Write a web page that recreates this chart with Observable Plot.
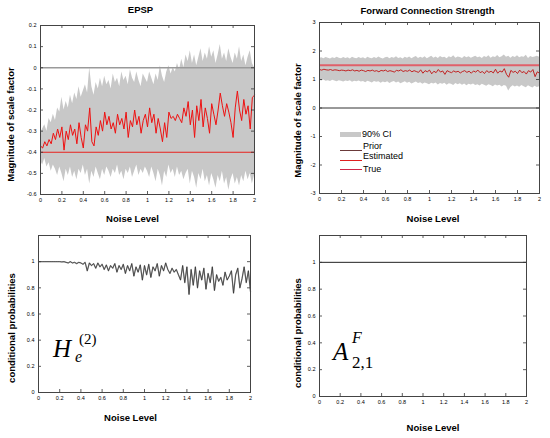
<!DOCTYPE html>
<html><head><meta charset="utf-8">
<script src="https://cdn.jsdelivr.net/npm/d3@7"></script>
<script src="https://cdn.jsdelivr.net/npm/@observablehq/plot@0.6"></script>
<style>
body{margin:0;background:#fff;}
#wrap{position:relative;width:550px;height:438px;overflow:hidden;background:#fff;}
#wrap svg{position:absolute;left:0;top:0;}
.lg{position:absolute;font-family:"Liberation Sans",Arial,sans-serif;font-size:9px;line-height:1;color:#000;white-space:nowrap;}
.sw{position:absolute;}
.m{position:absolute;font-family:"Liberation Serif","Times New Roman",serif;line-height:1;color:#000;white-space:nowrap;}
</style></head><body><div id="wrap"></div>
<script>
// ---------- data ----------
const noiseLevel = [0,0.02,0.04,0.06,0.08,0.1,0.12,0.14,0.16,0.18,
0.2,0.22,0.24,0.26,0.28,0.3,0.32,0.34,0.36,0.38,
0.4,0.42,0.44,0.46,0.48,0.5,0.52,0.54,0.56,0.58,
0.6,0.62,0.64,0.66,0.68,0.7,0.72,0.74,0.76,0.78,
0.8,0.82,0.84,0.86,0.88,0.9,0.92,0.94,0.96,0.98,
1,1.02,1.04,1.06,1.08,1.1,1.12,1.14,1.16,1.18,
1.2,1.22,1.24,1.26,1.28,1.3,1.32,1.34,1.36,1.38,
1.4,1.42,1.44,1.46,1.48,1.5,1.52,1.54,1.56,1.58,
1.6,1.62,1.64,1.66,1.68,1.7,1.72,1.74,1.76,1.78,
1.8,1.82,1.84,1.86,1.88,1.9,1.92,1.94,1.96,1.98,2];

// EPSP panel
const epspEstimated = [-0.37,-0.38,-0.35,-0.37,-0.34,-0.36,-0.31,-0.34,-0.29,-0.33,
-0.28,-0.39,-0.30,-0.34,-0.27,-0.32,-0.29,-0.36,-0.26,-0.33,
-0.38,-0.27,-0.30,-0.19,-0.35,-0.37,-0.28,-0.32,-0.25,-0.30,
-0.21,-0.27,-0.23,-0.29,-0.26,-0.31,-0.22,-0.27,-0.24,-0.29,
-0.21,-0.33,-0.25,-0.28,-0.20,-0.27,-0.23,-0.31,-0.25,-0.22,
-0.28,-0.19,-0.26,-0.22,-0.31,-0.24,-0.29,-0.35,-0.26,-0.33,
-0.21,-0.24,-0.23,-0.25,-0.22,-0.24,-0.26,-0.19,-0.23,-0.16,
-0.27,-0.20,-0.33,-0.18,-0.25,-0.15,-0.28,-0.19,-0.24,-0.31,
-0.17,-0.22,-0.27,-0.20,-0.12,-0.18,-0.23,-0.17,-0.21,-0.26,
-0.33,-0.19,-0.11,-0.20,-0.25,-0.15,-0.22,-0.18,-0.29,-0.14,-0.13];
const epspUpper = [-0.31,-0.29,-0.27,-0.30,-0.24,-0.26,-0.22,-0.25,-0.19,-0.21,
-0.14,-0.20,-0.16,-0.19,-0.13,-0.17,-0.12,-0.15,-0.09,-0.14,
-0.11,-0.08,-0.12,0.00,-0.09,-0.13,-0.07,-0.10,-0.05,-0.09,
-0.04,-0.08,-0.06,-0.10,-0.03,-0.07,-0.05,-0.09,-0.02,-0.06,
-0.04,-0.08,-0.01,-0.05,-0.07,-0.02,-0.06,-0.09,-0.03,-0.05,
-0.07,-0.02,-0.05,-0.08,-0.03,-0.06,0.01,-0.04,-0.07,-0.02,
0.01,-0.03,0.00,-0.02,0.02,-0.01,0.04,0.00,0.06,0.03,
0.08,0.02,0.06,0.01,0.05,0.09,0.03,0.07,0.04,0.10,
0.05,0.08,0.02,0.06,0.11,0.04,0.07,0.03,0.09,0.05,
0.02,0.07,0.04,0.10,0.03,0.06,0.01,0.05,0.08,0.02,0.00];
const epspLower = [-0.44,-0.46,-0.43,-0.47,-0.45,-0.49,-0.46,-0.48,-0.51,-0.47,
-0.50,-0.54,-0.48,-0.51,-0.47,-0.52,-0.49,-0.53,-0.48,-0.50,
-0.46,-0.51,-0.48,-0.55,-0.49,-0.52,-0.47,-0.50,-0.53,-0.48,
-0.51,-0.47,-0.49,-0.52,-0.48,-0.50,-0.46,-0.51,-0.49,-0.53,
-0.48,-0.50,-0.47,-0.52,-0.49,-0.46,-0.51,-0.48,-0.50,-0.47,
-0.49,-0.52,-0.47,-0.50,-0.54,-0.48,-0.51,-0.56,-0.49,-0.52,
-0.46,-0.50,-0.48,-0.52,-0.47,-0.51,-0.49,-0.53,-0.50,-0.48,
-0.55,-0.49,-0.52,-0.57,-0.50,-0.53,-0.48,-0.54,-0.51,-0.56,
-0.50,-0.53,-0.57,-0.51,-0.54,-0.49,-0.55,-0.52,-0.58,-0.53,
-0.50,-0.55,-0.52,-0.56,-0.51,-0.54,-0.49,-0.53,-0.50,-0.55,-0.51];
const epspTrue = [-0.4];
const epspZero = [0];

// Forward connection panel
const fwdEstimated = [1.35,1.33,1.36,1.34,1.33,1.35,1.32,1.34,1.33,1.31,
1.33,1.32,1.30,1.33,1.31,1.34,1.30,1.32,1.29,1.33,
1.31,1.28,1.32,1.30,1.33,1.29,1.31,1.27,1.32,1.30,
1.33,1.28,1.31,1.29,1.26,1.32,1.30,1.34,1.28,1.31,
1.29,1.33,1.27,1.31,1.28,1.25,1.34,1.22,1.31,1.27,
1.33,1.20,1.29,1.24,1.35,1.26,1.30,1.18,1.31,1.27,
1.24,1.30,1.26,1.29,1.23,1.28,1.31,1.25,1.29,1.22,
1.30,1.26,1.33,1.24,1.28,1.21,1.31,1.25,1.29,1.23,
1.36,1.22,1.30,1.26,1.38,1.18,1.08,1.32,1.25,1.29,
1.21,1.33,1.24,1.28,1.19,1.31,1.26,1.35,1.10,1.27,1.22];
const fwdUpper = [1.74,1.76,1.73,1.77,1.75,1.72,1.76,1.74,1.78,1.75,
1.73,1.77,1.74,1.76,1.72,1.78,1.75,1.73,1.77,1.74,
1.76,1.72,1.78,1.75,1.73,1.77,1.74,1.79,1.75,1.72,
1.76,1.78,1.73,1.77,1.75,1.80,1.74,1.76,1.72,1.78,
1.75,1.79,1.73,1.77,1.81,1.74,1.78,1.75,1.80,1.73,
1.77,1.82,1.75,1.79,1.74,1.81,1.76,1.78,1.73,1.80,
1.76,1.83,1.75,1.79,1.77,1.74,1.81,1.76,1.80,1.75,
1.78,1.82,1.76,1.79,1.74,1.81,1.77,1.83,1.75,1.80,
1.77,1.84,1.76,1.80,1.86,1.78,1.82,1.75,1.81,1.77,
1.83,1.76,1.80,1.78,1.85,1.74,1.81,1.77,1.79,1.82,1.78];
const fwdLower = [0.97,0.95,0.98,0.94,0.96,0.93,0.97,0.95,0.92,0.96,
0.94,0.91,0.95,0.93,0.96,0.90,0.94,0.92,0.95,0.91,
0.93,0.89,0.94,0.91,0.88,0.93,0.90,0.92,0.87,0.91,
0.89,0.92,0.86,0.90,0.93,0.88,0.91,0.85,0.89,0.92,
0.87,0.90,0.84,0.88,0.91,0.86,0.89,0.83,0.88,0.85,
0.82,0.87,0.84,0.88,0.81,0.86,0.83,0.87,0.80,0.85,
0.83,0.79,0.86,0.82,0.85,0.80,0.84,0.78,0.83,0.81,
0.84,0.79,0.82,0.77,0.83,0.80,0.76,0.82,0.79,0.75,
0.81,0.77,0.80,0.74,0.79,0.76,0.60,0.72,0.78,0.74,
0.77,0.73,0.79,0.75,0.71,0.78,0.74,0.70,0.76,0.72,0.75];
const fwdTrue = [1.5];
const fwdZero = [0];

// conditional probabilities
const probEPSP = [1,1,1,1,1,1,1,1,1,1,
1.0,0.998,1.0,0.995,0.99,1.0,0.99,0.995,0.985,0.995,
0.99,0.98,0.995,0.93,0.99,0.97,0.985,0.95,0.99,0.96,
0.98,0.94,0.975,0.93,0.97,0.95,0.985,0.92,0.97,0.94,
0.98,0.91,0.97,0.93,0.985,0.89,0.96,0.92,0.975,0.86,
0.97,0.90,0.98,0.88,0.96,0.93,0.985,0.89,0.97,0.93,
0.99,0.94,0.91,0.95,0.92,0.94,0.90,0.86,0.97,0.84,
0.96,0.75,0.94,0.82,0.96,0.80,0.93,0.86,0.95,0.79,
0.91,0.84,0.96,0.78,0.90,0.85,0.88,0.82,0.92,0.86,
0.89,0.93,0.76,0.90,0.95,0.80,0.87,0.96,0.84,0.93,0.77];
const probFwdX = [0, 2];
const probFwd = [1, 1];

// ticks
const xTicks = [0,0.2,0.4,0.6,0.8,1,1.2,1.4,1.6,1.8,2];
const epspYTicks = [-0.6,-0.5,-0.4,-0.3,-0.2,-0.1,0,0.1,0.2];
const fwdYTicks = [-3,-2,-1,0,1,2,3];
const probYTicks = [0,0.2,0.4,0.6,0.8,1];

// ---------- drawing ----------
const W = 550, H = 438;
const wrap = document.getElementById("wrap");
const boldFont = "'Liberation Sans Narrow','Arial Narrow','Liberation Sans',Arial,sans-serif";

function panel(o) {
  const [l, r, t, b] = o.frame;
  const fw = r - l, fh = b - t;
  const lab = {text: d => d, textAnchor: "middle", lineAnchor: "middle", fontWeight: "bold", fontSize: 9.5, fontFamily: boldFont};
  const svg = Plot.plot({
    width: W, height: H,
    marginLeft: l, marginRight: W - r, marginTop: t, marginBottom: H - b,
    style: {fontFamily: "'Liberation Sans',Arial,sans-serif", fontSize: "5.5px", background: "transparent", overflow: "visible"},
    x: {domain: [0, 2], ticks: xTicks, tickSize: 0, tickPadding: 3.5, tickFormat: d => String(d), label: null},
    y: {domain: o.yDomain, ticks: o.yTicks, tickSize: 0, tickPadding: 4, tickFormat: d => String(d), label: null},
    marks: [
      ...o.marks,
      Plot.tickX(xTicks, {x: d => d, insetTop: fh - 3, stroke: "#333", strokeWidth: 0.8}),
      Plot.tickX(xTicks, {x: d => d, insetBottom: fh - 3, stroke: "#333", strokeWidth: 0.8}),
      Plot.tickY(o.yTicks, {y: d => d, insetRight: fw - 3, stroke: "#333", strokeWidth: 0.8}),
      Plot.tickY(o.yTicks, {y: d => d, insetLeft: fw - 3, stroke: "#333", strokeWidth: 0.8}),
      Plot.frame({stroke: "#444", strokeWidth: 1}),
      ...(o.title ? [Plot.text([o.title], {...lab, frameAnchor: "top", dx: o.titleD[0], dy: o.titleD[1]})] : []),
      Plot.text([o.ylabel], {...lab, frameAnchor: "left", rotate: -90, dx: o.ylabD[0], dy: o.ylabD[1]}),
      Plot.text(["Noise Level"], {...lab, frameAnchor: "bottom", dx: o.xlabD[0], dy: o.xlabD[1]})
    ]
  });
  svg.style.background = "transparent";
  wrap.appendChild(svg);
}

const epspRows = noiseLevel.map((x, i) => ({x, est: epspEstimated[i], lo: epspLower[i], hi: epspUpper[i]}));
const fwdRows = noiseLevel.map((x, i) => ({x, est: fwdEstimated[i], lo: fwdLower[i], hi: fwdUpper[i]}));
const probRows = noiseLevel.map((x, i) => ({x, p: probEPSP[i]}));
const probFwdRows = probFwdX.map((x, i) => ({x, p: probFwd[i]}));

panel({
  frame: [40, 254, 25, 194], yDomain: [-0.6, 0.2], yTicks: epspYTicks,
  title: "EPSP", titleD: [-7, -16],
  ylabel: "Magnitude of scale factor", ylabD: [-30, 14.5],
  xlabD: [-15, 24],
  marks: [
    Plot.areaY(epspRows, {x: "x", y1: "lo", y2: "hi", fill: "#c8c8c8"}),
    Plot.ruleY(epspZero, {y: d => d, stroke: "#9a9a9a", strokeWidth: 1.5}),
    Plot.ruleY(epspTrue, {y: d => d, stroke: "#e8201c", strokeWidth: 1}),
    Plot.lineY(epspRows, {x: "x", y: "est", stroke: "#ee1111", strokeWidth: 1})
  ]
});

panel({
  frame: [319, 539, 22, 193], yDomain: [-3, 3], yTicks: fwdYTicks,
  title: "Forward Connection Strength", titleD: [-2, -12],
  ylabel: "Magnitude of scale factor", ylabD: [-22, 12.5],
  xlabD: [3.5, 25],
  marks: [
    Plot.areaY(fwdRows, {x: "x", y1: "lo", y2: "hi", fill: "#c8c8c8"}),
    Plot.ruleY(fwdZero, {y: d => d, stroke: "#333", strokeWidth: 1}),
    Plot.ruleY(fwdTrue, {y: d => d, stroke: "#e0606a", strokeWidth: 1.8}),
    Plot.lineY(fwdRows, {x: "x", y: "est", stroke: "#c01010", strokeWidth: 0.9})
  ]
});

panel({
  frame: [38, 250, 235, 392], yDomain: [0, 1.2], yTicks: probYTicks,
  ylabel: "conditional probabilities", ylabD: [-27, 14],
  xlabD: [-14, 25],
  marks: [
    Plot.lineY(probRows, {x: "x", y: "p", stroke: "#9a9a9a", strokeWidth: 1.3}),
    Plot.lineY(probRows, {x: "x", y: "p", stroke: "#222", strokeWidth: 0.6})
  ]
});

panel({
  frame: [319, 526, 235, 396], yDomain: [0, 1.2], yTicks: probYTicks,
  ylabel: "conditional probabilities", ylabD: [-22, 17],
  xlabD: [10, 31],
  marks: [
    Plot.lineY(probFwdRows, {x: "x", y: "p", stroke: "#222", strokeWidth: 1})
  ]
});

// ---------- legend & math annotations (HTML overlay) ----------
function add(cls, css, html) {
  const d = document.createElement("div");
  d.className = cls;
  Object.assign(d.style, css);
  d.innerHTML = html || "";
  wrap.appendChild(d);
}
add("sw", {left: "340px", top: "132px", width: "21px", height: "5px", background: "#c8c8c8"});
add("lg", {left: "362px", top: "129.5px"}, "90% CI");
add("sw", {left: "340px", top: "150px", width: "22px", height: "1px", background: "#6b3a3a"});
add("lg", {left: "363px", top: "141.5px"}, "Prior");
add("sw", {left: "340px", top: "160px", width: "22px", height: "1px", background: "#e02020"});
add("lg", {left: "363px", top: "152px"}, "Estimated");
add("sw", {left: "340px", top: "169px", width: "22px", height: "1px", background: "#d02848"});
add("lg", {left: "363px", top: "164.5px"}, "True");

add("m", {left: "53px", top: "336px", fontSize: "25px", fontStyle: "italic"}, "H");
add("m", {left: "75px", top: "349px", fontSize: "16px", fontStyle: "italic"}, "e");
add("m", {left: "79px", top: "332px", fontSize: "15px"}, "(2)");

add("m", {left: "333px", top: "339px", fontSize: "25px", fontStyle: "italic"}, "A");
add("m", {left: "352px", top: "330px", fontSize: "16px", fontStyle: "italic"}, "F");
add("m", {left: "352px", top: "354px", fontSize: "17px"}, "2,1");
</script></body></html>
